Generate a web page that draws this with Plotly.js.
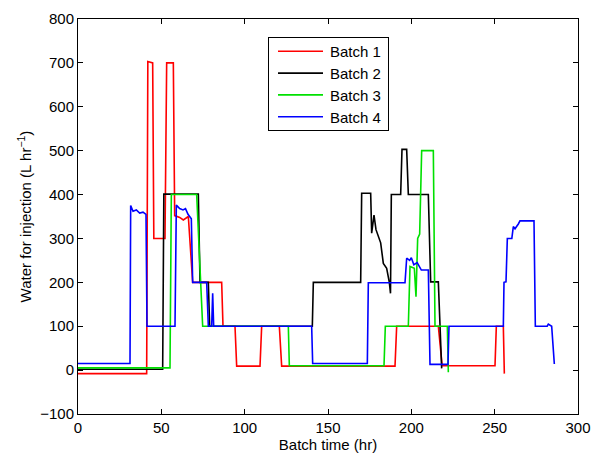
<!DOCTYPE html>
<html>
<head>
<meta charset="utf-8">
<script src="https://cdn.plot.ly/plotly-3.0.1.min.js"></script>
<style>html,body{margin:0;padding:0;background:#fff;}#chart{width:592px;height:453px;}</style>
</head>
<body>
<div id="chart"></div>
<script>
const seriesNames = ["Batch 1", "Batch 2", "Batch 3", "Batch 4"];
const seriesColors = ["#ff0000", "#000000", "#00e000", "#0000ff"];

const batch1X = [0, 41.2, 41.9, 44.8, 45.5, 52.2, 53.2, 57.2, 58, 61, 63.2, 66.2, 68.8, 86.2, 87, 94.2, 95.2, 109.2, 110.2, 120.8, 122.2, 190.2, 191.2, 216.2, 218.5, 250.2, 251, 255.2, 255.8];
const batch1Y = [-8, -8, 703, 700, 300, 300, 700, 700, 352, 348, 342, 350, 200, 200, 100, 100, 9, 9, 100, 100, 9, 9, 100, 100, 10, 10, 100, 100, -8];

const batch2X = [0, 50.8, 51.5, 72.2, 73.2, 78.2, 79, 140.6, 141.2, 169.6, 170.2, 175.6, 176.2, 177.6, 178.8, 180.2, 181.6, 183.2, 185.2, 186.8, 187.5, 188, 193.6, 194.4, 197.2, 198.2, 210.2, 211.6, 216.2, 218.2];
const batch2Y = [2, 2, 401, 401, 200, 200, 100, 100, 200, 200, 403, 403, 312, 353, 320, 305, 290, 243, 232, 200, 175, 400, 400, 503, 503, 400, 400, 201, 201, 4];

const batch3X = [0, 55.2, 56, 71.2, 74.8, 126.2, 126.8, 183.6, 184.4, 198.2, 199.2, 201.8, 202.8, 203.3, 203.8, 205, 206.2, 213.2, 214.2, 221.6, 222.2];
const batch3Y = [5, 5, 400, 400, 100, 100, 10, 10, 100, 100, 236, 232, 167, 250, 300, 310, 500, 500, 100, 100, -5];

const batch4X = [0, 31.2, 31.6, 33, 35, 37, 39, 40.8, 41.4, 58.2, 59, 61, 63, 64.5, 66, 68, 68.8, 77.2, 78.2, 80.2, 80.8, 81.4, 140.2, 140.8, 173.6, 174.2, 196.2, 197.2, 199, 200, 201.5, 203.5, 206, 210.2, 211.2, 222, 222.6, 255.2, 255.6, 256.8, 257.6, 260.3, 261.2, 262.2, 264.2, 265.2, 273.6, 274.4, 281.5, 282.2, 284.2, 285.8];
const batch4Y = [15, 15, 375, 362, 365, 358, 360, 355, 100, 100, 376, 368, 365, 368, 355, 345, 200, 200, 100, 100, 175, 100, 100, 15, 15, 199, 199, 255, 250, 256, 240, 245, 228, 228, 13, 13, 100, 100, 200, 201, 300, 300, 327, 322, 333, 340, 340, 100, 100, 105, 100, 14];

const xTicks = [0, 50, 100, 150, 200, 250, 300];
const yTicks = [-100, 0, 100, 200, 300, 400, 500, 600, 700, 800];
const yTickText = ["\u2212100", "0", "100", "200", "300", "400", "500", "600", "700", "800"];

const xs = [batch1X, batch2X, batch3X, batch4X];
const ys = [batch1Y, batch2Y, batch3Y, batch4Y];

const traces = seriesNames.map((n, i) => ({
  type: "scatter", mode: "lines", name: n, x: xs[i], y: ys[i],
  line: {color: seriesColors[i], width: 1.6}
}));

const fontFam = "Liberation Sans, Arial, Helvetica, sans-serif";
const axisCommon = {
  showline: true, linecolor: "#000", linewidth: 1, mirror: "ticks",
  ticks: "inside", ticklen: 5, tickcolor: "#000", showgrid: false, zeroline: false,
  tickfont: {family: fontFam, size: 15, color: "#000"}
};

const layout = {
  width: 592, height: 453,
  margin: {l: 78, r: 14, t: 19, b: 39},
  paper_bgcolor: "#fff", plot_bgcolor: "#fff",
  font: {family: fontFam, size: 15, color: "#000"},
  xaxis: Object.assign({}, axisCommon, {
    range: [0, 300], tickvals: xTicks, automargin: false,
    title: {text: "Batch time (hr)", font: {size: 15}, standoff: 1}
  }),
  yaxis: Object.assign({}, axisCommon, {
    range: [-100, 800], tickvals: yTicks, ticktext: yTickText, automargin: false,
    title: {text: "Water for injection (L hr<sup>\u22121</sup>)", font: {size: 15}, standoff: 4}
  }),
  showlegend: true,
  legend: {
    x: 0.38, y: 0.955, xanchor: "left", yanchor: "top",
    bordercolor: "#000", borderwidth: 1, bgcolor: "#fff",
    font: {size: 15, family: fontFam}, traceorder: "normal"
  }
};

Plotly.newPlot("chart", traces, layout, {displayModeBar: false, staticPlot: true}).then(gd => {
  // adjust legend sample length and spacing to match the reference legend look
  const leg = gd.querySelector(".legend");
  if (!leg) return;
  leg.querySelectorAll("path.js-line").forEach(p => p.setAttribute("d", "M10,0h45"));
  leg.querySelectorAll("text.legendtext").forEach(t => t.setAttribute("x", "62"));
  const items = Array.from(leg.querySelectorAll("g.traces"));
  const firstY = 14.5, gap = 21.8;
  items.forEach((g, i) => g.setAttribute("transform", "translate(0," + (firstY + i * gap) + ")"));
  const bg = leg.querySelector("rect.bg");
  if (bg) { bg.setAttribute("width", "120"); bg.setAttribute("height", "93"); }
  gd.querySelectorAll('clipPath[id^="legend"] rect').forEach(r => { r.setAttribute("width", "120"); r.setAttribute("height", "93"); });
});
</script>
</body>
</html>
